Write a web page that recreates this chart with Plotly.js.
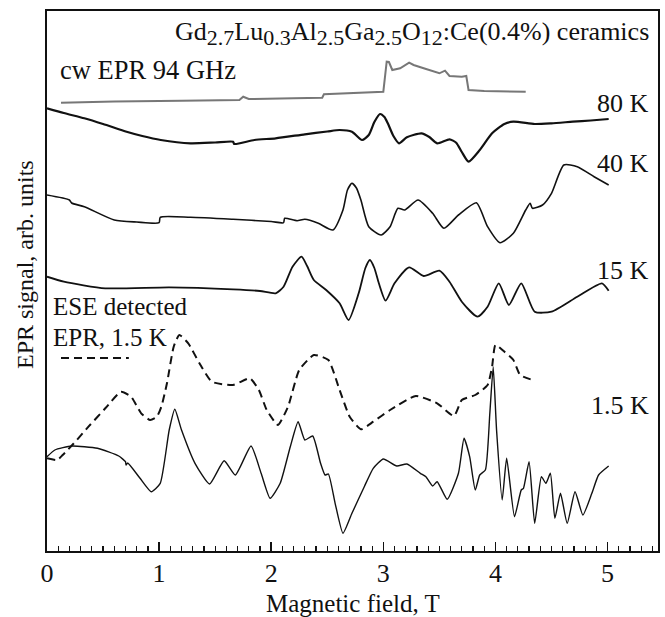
<!DOCTYPE html>
<html>
<head>
<meta charset="utf-8">
<script src="https://cdn.plot.ly/plotly-3.0.1.min.js"></script>
<style>html,body{margin:0;padding:0;background:#fff;}#chart{width:665px;height:617px;}</style>
</head>
<body>
<div id="chart"></div>
<script>
// Magnetic field (T) and signal values (arb. units, read as vertical picture position; larger = lower)
const cwX = [0.125,0.6,1.2,1.716,1.75,1.8,2.2,2.455,2.47,2.8,3.0,3.03,3.05,3.08,3.15,3.23,3.27,3.36,3.5,3.55,3.59,3.7,3.74,3.76,3.9,4.27];
const cwY = [102.7,101.5,100.8,100,96.7,99,98.3,97.7,94.3,93,91.7,61.7,62,70,68.3,62.7,65,68.3,73.3,70.7,76,76.7,76,90,91,91.7];

const k80X = [0,0.15,0.333,0.5,0.71,0.85,1.015,1.28,1.5,1.66,1.67,1.85,2.04,2.3,2.5,2.61,2.72,2.81,2.87,2.92,2.97,3.01,3.04,3.09,3.14,3.21,3.34,3.41,3.48,3.59,3.65,3.7,3.76,3.86,3.97,4.08,4.16,4.35,4.5,4.69,4.85,5.01];
const k80Y = [108.3,113,118.3,124,131.7,136,140,143.3,142.5,141.7,144,140,138.3,134.3,131.5,130,131.7,140,135,122,114,117,123.3,136,143.3,137.3,133.3,137,143.3,139.3,142.7,152,161.7,150,133.3,124,121.7,124,123.3,121.7,120.5,119];

const k40X = [0,0.2,0.22,0.333,0.6,0.8,1.0,1.01,1.28,1.66,2.0,2.11,2.12,2.23,2.3,2.42,2.55,2.64,2.68,2.72,2.76,2.8,2.87,2.98,3.06,3.13,3.19,3.31,3.44,3.54,3.67,3.83,3.93,4.04,4.16,4.27,4.31,4.33,4.42,4.5,4.61,4.73,4.88,5.01];
const k40Y = [195,200,203,206.7,220,222,222.7,217.3,217.3,219.3,221.5,222.7,218.3,220.7,219.3,223.3,230,210,190,183.3,188,200,226.7,235,226.7,208.3,210,200,213.3,228.3,215,202.7,226.7,242.7,233.3,210,203.3,208.3,205,193.3,165,166.7,176.7,185];

const k15X = [0,0.15,0.52,1.09,1.66,1.9,2.04,2.11,2.19,2.27,2.32,2.38,2.49,2.61,2.69,2.78,2.84,2.88,2.92,2.96,3.02,3.1,3.23,3.36,3.5,3.59,3.7,3.84,3.93,4.03,4.12,4.23,4.35,4.5,4.73,4.95,5.01];
const k15Y = [276.7,281.7,288.3,287.3,289.3,291,293.3,286.7,266.7,256.7,266,280,290,303.3,320,293.3,268,260,268,283.3,300.7,283.3,267.3,276,270.7,281.7,301.7,316.7,306.7,283.3,305,283.3,311.7,311.7,296.7,283.3,290.7];

const eseX = [0,0.09,0.14,0.24,0.37,0.52,0.66,0.75,0.84,0.92,0.98,1.02,1.07,1.13,1.18,1.26,1.36,1.47,1.66,1.81,1.89,1.96,2.06,2.15,2.25,2.38,2.51,2.61,2.7,2.8,2.91,3.06,3.29,3.48,3.63,3.7,3.82,3.93,3.97,4.0,4.08,4.16,4.22,4.33];
const eseY = [458.3,460,455,443.3,426.7,408.3,391.7,396.7,413.3,420,416.7,406.7,383.3,346.7,335,343.3,363.3,381.7,385,378.3,390,410,425,406.7,370,355,360,390,416.7,429.3,421.7,410,396,403.3,416,400,395,385,366.7,345,351.7,360,375,380];

const k15sX = [0,0.07,0.22,0.45,0.64,0.7,0.705,0.72,0.83,0.93,1.01,1.09,1.14,1.2,1.32,1.45,1.58,1.68,1.82,1.91,1.99,2.08,2.17,2.24,2.3,2.37,2.44,2.48,2.51,2.57,2.64,2.72,2.83,2.91,3.0,3.12,3.21,3.33,3.38,3.44,3.48,3.57,3.67,3.72,3.77,3.82,3.86,3.91,3.95,3.98,4.01,4.06,4.1,4.17,4.23,4.25,4.3,4.35,4.41,4.45,4.49,4.53,4.58,4.64,4.71,4.78,4.86,4.92,5.01];
const k15sY = [456.7,450,446,448.3,456,461.7,465,463,478.3,491.7,483.3,430,409.3,430,463.3,484,460.7,475,446,473.3,498.3,483.3,446.7,421.7,440,436,463.3,475,474,503.3,533.3,513.3,486.7,468.3,459,466,464,473.3,476.7,486,481.7,499.3,473.3,438.3,456.7,490,475,470,413.3,367,430,500,458.3,516.7,490,488.3,461.7,523.3,476.7,483.3,473.3,518.3,493.3,523.3,491.7,515,493.3,475,466];

const tickVals = [0,1,2,3,4,5];
const tickText = ['0','1','2','3','4','5'];

const FONT = 'Liberation Serif, Times New Roman, serif';
const traces = [
  {x: cwX, y: cwY, mode: 'lines', line: {color: '#777777', width: 2}, hoverinfo: 'skip'},
  {x: k80X, y: k80Y, mode: 'lines', line: {color: '#111', width: 2.2, shape: 'spline', smoothing: 0.6}},
  {x: k40X, y: k40Y, mode: 'lines', line: {color: '#111', width: 1.6, shape: 'spline', smoothing: 0.6}},
  {x: k15X, y: k15Y, mode: 'lines', line: {color: '#111', width: 1.8, shape: 'spline', smoothing: 0.6}},
  {x: eseX, y: eseY, mode: 'lines', line: {color: '#111', width: 2, dash: '8px,5px', shape: 'spline', smoothing: 0.5}},
  {x: k15sX, y: k15sY, mode: 'lines', line: {color: '#111', width: 1.4, shape: 'spline', smoothing: 0.5}},
  {x: [0.125, 0.73], y: [358, 358], mode: 'lines', line: {color: '#111', width: 2, dash: '8px,5px'}}
];

const ann = (text, x, y, xanchor, size) => ({text, x, y, xref: 'x', yref: 'y', xanchor, yanchor: 'middle', showarrow: false, font: {family: FONT, size: size || 25, color: '#111'}});
const sb = s => '<sub><span style="font-size:22px">' + s + '</span></sub>';

const layout = {
  width: 665, height: 617,
  margin: {l: 47, r: 7, t: 11, b: 66},
  paper_bgcolor: '#fff', plot_bgcolor: '#fff',
  showlegend: false,
  font: {family: FONT, size: 25, color: '#111'},
  xaxis: {
    range: [0, 5.45], showgrid: false, zeroline: false,
    showline: true, mirror: true, linecolor: '#111', linewidth: 2,
    ticks: 'inside', ticklen: 9, tickwidth: 1.5, tickcolor: '#111',
    tickvals: tickVals, ticktext: tickText,
    tickfont: {family: FONT, size: 26, color: '#111'},
    ticklabelstandoff: -2,
    minor: {dtick: 0.1, ticks: 'inside', ticklen: 5, tickwidth: 1.2, tickcolor: '#111'}
  },
  yaxis: {
    range: [551, 11], showgrid: false, zeroline: false,
    showline: true, mirror: true, linecolor: '#111', linewidth: 2,
    ticks: '', showticklabels: false
  },
  annotations: [
    ann('Gd' + sb('2.7') + 'Lu' + sb('0.3') + 'Al' + sb('2.5') + 'Ga' + sb('2.5') + 'O' + sb('12') + ':Ce(0.4%) ceramics', 5.39, 33, 'right', 26),
    ann('cw EPR 94 GHz', 0.1, 70, 'left', 26.5),
    ann('80 K', 5.39, 103, 'right', 26),
    ann('40 K', 5.39, 163, 'right', 26),
    ann('15 K', 5.39, 270, 'right', 26),
    ann('1.5 K', 5.39, 405, 'right', 26),
    ann('ESE detected', 0.04, 306, 'left', 25),
    ann('EPR, 1.5 K', 0.04, 337, 'left', 25),
    {text: 'Magnetic field, T', xref: 'paper', yref: 'paper', x: 0.5, y: -0.0963, xanchor: 'center', yanchor: 'middle', showarrow: false, font: {family: FONT, size: 25, color: '#111'}},
    {text: 'EPR signal, arb. units', xref: 'paper', yref: 'paper', x: -0.036, y: 0.5296, xanchor: 'center', yanchor: 'middle', textangle: -90, showarrow: false, font: {family: FONT, size: 24, color: '#111'}}
  ]
};

Plotly.newPlot('chart', traces, layout, {displayModeBar: false, staticPlot: true});
</script>
</body>
</html>
